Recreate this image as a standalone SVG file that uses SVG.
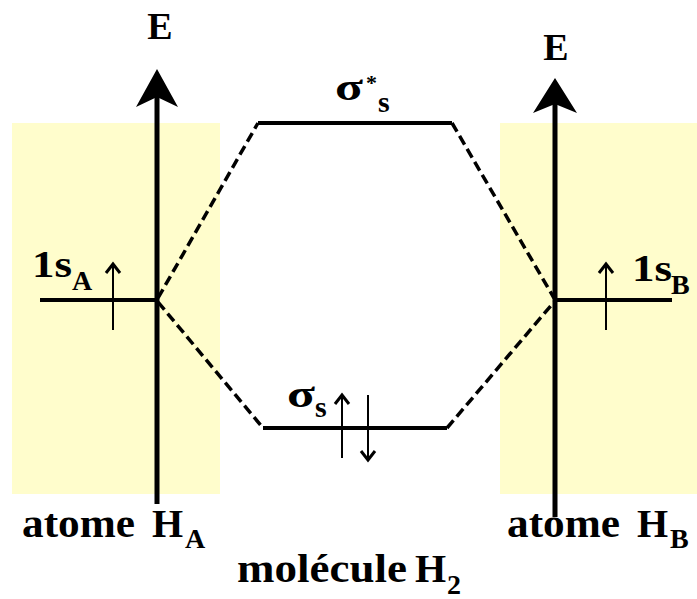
<svg xmlns="http://www.w3.org/2000/svg" width="697" height="599" viewBox="0 0 697 599">
<style>
text{font-family:'Liberation Serif','Times New Roman','DejaVu Serif',serif;font-weight:700;fill:#000}
.axis{stroke:#000;stroke-width:5;fill:none}
.lvl{stroke:#000;stroke-width:4;fill:none}
.dash{stroke:#000;stroke-width:3.5;fill:none;stroke-dasharray:10 5}
.e{stroke:#000;stroke-width:2;fill:none}
.head{stroke:#000;stroke-width:3;fill:none}
.zone{fill:#FFFDCC}
</style>
<rect class="zone" x="12" y="123" width="208" height="371"/>
<rect class="zone" x="500" y="123" width="197" height="371"/>
<g id="connectors">
<line class="dash" x1="158" y1="298" x2="258" y2="123"/>
<line class="dash" x1="158" y1="302" x2="263" y2="428"/>
<line class="dash" x1="452" y1="123" x2="554" y2="298"/>
<line class="dash" x1="447" y1="428" x2="554" y2="302"/>
</g>
<g id="axisA">
<line class="axis" x1="157" y1="95" x2="157" y2="504"/>
<path d="M157,69 L178,107 L157,97 L136,107 Z" fill="#000"/>
<text x="160" y="39" font-size="38" text-anchor="middle">E</text>
</g>
<g id="axisB">
<line class="axis" x1="555" y1="102" x2="555" y2="517"/>
<path d="M555,78 L577,113 L555,104 L533,113 Z" fill="#000"/>
<text x="556" y="60" font-size="38" text-anchor="middle">E</text>
</g>
<g id="level1sA">
<line class="lvl" x1="40" y1="300" x2="157" y2="300"/>
<line class="e" x1="113" y1="264" x2="113" y2="330"/>
<polyline class="head" points="106,273 113,264 120,273"/>
<text x="32" y="277" font-size="38" textLength="40" lengthAdjust="spacingAndGlyphs">1s</text>
<text x="72" y="290" font-size="28">A</text>
</g>
<g id="level1sB">
<line class="lvl" x1="555" y1="300" x2="672" y2="300"/>
<line class="e" x1="606" y1="264" x2="606" y2="330"/>
<polyline class="head" points="599,273 606,264 613,273"/>
<text x="632" y="281" font-size="38" textLength="40" lengthAdjust="spacingAndGlyphs">1s</text>
<text x="671" y="294" font-size="28">B</text>
</g>
<g id="sigmaStar">
<line class="lvl" x1="258" y1="123" x2="452" y2="123"/>
<text x="335" y="100" font-size="38" textLength="28" lengthAdjust="spacingAndGlyphs">σ</text>
<text x="366" y="90" font-size="22">*</text>
<text x="378" y="112" font-size="30">s</text>
</g>
<g id="sigma">
<line class="lvl" x1="263" y1="428" x2="447" y2="428"/>
<text x="287" y="407" font-size="38" textLength="28" lengthAdjust="spacingAndGlyphs">σ</text>
<text x="315" y="417" font-size="30">s</text>
<line class="e" x1="342" y1="395" x2="342" y2="458"/>
<polyline class="head" points="335,404 342,395 349,404"/>
<line class="e" x1="368" y1="395" x2="368" y2="460"/>
<polyline class="head" points="361,451 368,460 375,451"/>
</g>
<g id="labels">
<text x="22" y="537" font-size="40" textLength="113" lengthAdjust="spacingAndGlyphs">atome</text>
<text x="152" y="537" font-size="40">H</text>
<text x="185" y="548" font-size="28">A</text>
<text x="507" y="537" font-size="40" textLength="113" lengthAdjust="spacingAndGlyphs">atome</text>
<text x="637" y="537" font-size="40">H</text>
<text x="670" y="548" font-size="28">B</text>
<text x="237" y="582" font-size="40" textLength="170" lengthAdjust="spacingAndGlyphs">molécule</text>
<text x="415" y="582" font-size="40">H</text>
<text x="447" y="594" font-size="28">2</text>
</g>
</svg>
